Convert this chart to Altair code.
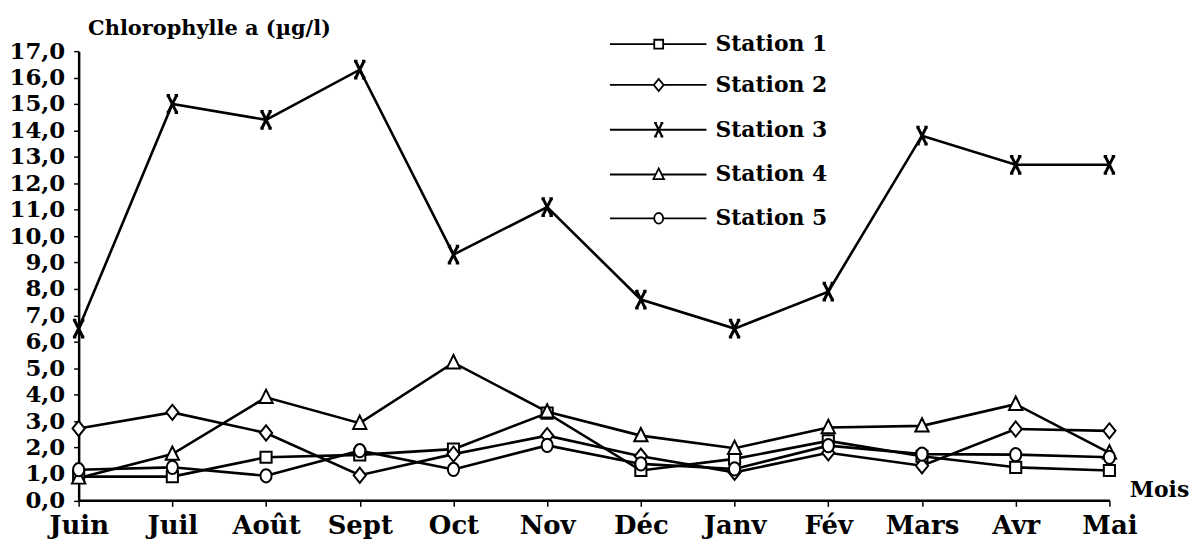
import altair as alt
import pandas as pd

months = ["Juin", "Juil", "Août", "Sept", "Oct", "Nov", "Déc", "Janv", "Fév", "Mars", "Avr", "Mai"]
stations = ["Station 1", "Station 2", "Station 3", "Station 4", "Station 5"]

s1 = [0.9, 0.9, 1.63, 1.72, 1.94, 3.3, 1.13, 1.57, 2.25, 1.67, 1.25, 1.13]
s2 = [2.72, 3.33, 2.55, 0.95, 1.75, 2.45, 1.67, 1.06, 1.8, 1.31, 2.7, 2.63]
s3 = [6.5, 15.0, 14.4, 16.3, 9.3, 11.1, 7.6, 6.5, 7.9, 13.8, 12.7, 12.7]
s4 = [0.85, 1.75, 3.9, 2.92, 5.21, 3.35, 2.45, 1.97, 2.76, 2.82, 3.64, 1.8]
s5 = [1.16, 1.25, 0.93, 1.88, 1.17, 2.08, 1.38, 1.19, 2.07, 1.75, 1.73, 1.63]
y_ticks = list(range(0, 18))

rows = []
for st, vals in zip(stations, [s1, s2, s3, s4, s5]):
    for i, (m, v) in enumerate(zip(months, vals)):
        rows.append({"mois": m, "idx": i, "station": st, "valeur": v})
df = pd.DataFrame(rows)

FONT = "DejaVu Serif"
W, H = 1036, 451.5

paths = [
    "M-0.73,-0.73 L0.73,-0.73 L0.73,0.73 L-0.73,0.73 Z",
    "M-0.8,0 L0,-1 L0.8,0 L0,1 Z",
    "M-0.55,-1.1 L0.55,1.1 M0.55,-1.1 L-0.55,1.1 M-0.75,-1.1 L-0.3,-1.1 M0.3,-1.1 L0.75,-1.1 M-0.75,1.1 L-0.3,1.1 M0.3,1.1 L0.75,1.1",
    "M0,-1 L0.87,0.75 L-0.87,0.75 Z",
    "M-0.73,0 A0.73,0.87 0 1,0 0.73,0 A0.73,0.87 0 1,0 -0.73,0 Z",
]

x_enc = alt.X(
    "mois:N", sort=months,
    scale=alt.Scale(type="point", padding=0, domain=months),
    axis=alt.Axis(
        title="Mois", titleX=1056, titleY=-4, titleAlign="left", titleBaseline="alphabetic",
        titleFont=FONT, titleFontSize=22, titleFontWeight="bold", titleColor="black",
        labelFont=FONT, labelFontSize=26, labelFontWeight="bold", labelColor="black",
        labelAngle=0, labelPadding=6, labelOverlap=False,
        tickSize=6, tickColor="black", tickWidth=1.5,
        domainColor="black", domainWidth=2.5, grid=False,
    ),
)
y_enc = alt.Y(
    "valeur:Q",
    scale=alt.Scale(domain=[0, 17], nice=False, zero=True),
    axis=alt.Axis(
        values=y_ticks, tickCount=18,
        labelExpr="replace(format(datum.value, '.1f'), '.', ',')",
        title="Chlorophylle a (µg/l)", titleAngle=0, titleAlign="left", titleBaseline="alphabetic",
        titleX=9, titleY=-17, titleFont=FONT, titleFontSize=21, titleFontWeight="bold", titleColor="black",
        labelFont=FONT, labelFontSize=23, labelFontWeight="bold", labelColor="black",
        labelPadding=9, labelOverlap=False, labelFlush=False,
        tickSize=5, tickColor="black", tickWidth=1.5,
        domainColor="black", domainWidth=2.5, grid=False,
    ),
)

base = alt.Chart(df)
lines = base.mark_line(color="black", strokeWidth=2.6).encode(
    x=x_enc, y=y_enc, detail="station:N", order=alt.Order("idx:Q")
)

shape_enc = alt.Shape("station:N", scale=alt.Scale(domain=stations, range=paths), legend=None)
pts = base.mark_point(fill="white", stroke="black", strokeWidth=2, size=235, opacity=1, fillOpacity=1).encode(
    x=x_enc, y=y_enc, shape=shape_enc
).transform_filter("datum.station != 'Station 3'")
pts3 = base.mark_point(fill="white", stroke="black", strokeWidth=3, size=235, opacity=1, fillOpacity=1).encode(
    x=x_enc, y=y_enc, shape=shape_enc
).transform_filter("datum.station == 'Station 3'")

one = pd.DataFrame({"k": [0]})
LEG_Y = [-7, 34, 79, 124, 168]
LEG_X0, LEG_X1, LEG_XM, LEG_XT = 534, 631, 583, 640
legend_layers = []
for i, st in enumerate(stations):
    yy = LEG_Y[i]
    legend_layers.append(
        alt.Chart(one).mark_rule(color="black", strokeWidth=1.8).encode(
            x=alt.value(LEG_X0), x2=alt.value(LEG_X1), y=alt.value(yy)
        )
    )
    legend_layers.append(
        alt.Chart(one).mark_point(shape=paths[i], size=150, fill="white", stroke="black",
                                  strokeWidth=2.2 if i == 2 else 1.8, opacity=1, fillOpacity=1).encode(
            x=alt.value(LEG_XM), y=alt.value(yy)
        )
    )
    legend_layers.append(
        alt.Chart(one).mark_text(text=st, align="left", baseline="middle", font=FONT,
                                 fontSize=22, fontWeight="bold", color="black").encode(
            x=alt.value(LEG_XT), y=alt.value(yy)
        )
    )

chart = alt.layer(lines, pts, pts3, *legend_layers).properties(
    width=W, height=H,
    padding={"left": 71, "top": 42, "right": 80, "bottom": 44},
    autosize="none",
    background="white",
).configure_view(stroke=None)

chart.save("out.html", embed_options={"renderer": "svg", "actions": False})
